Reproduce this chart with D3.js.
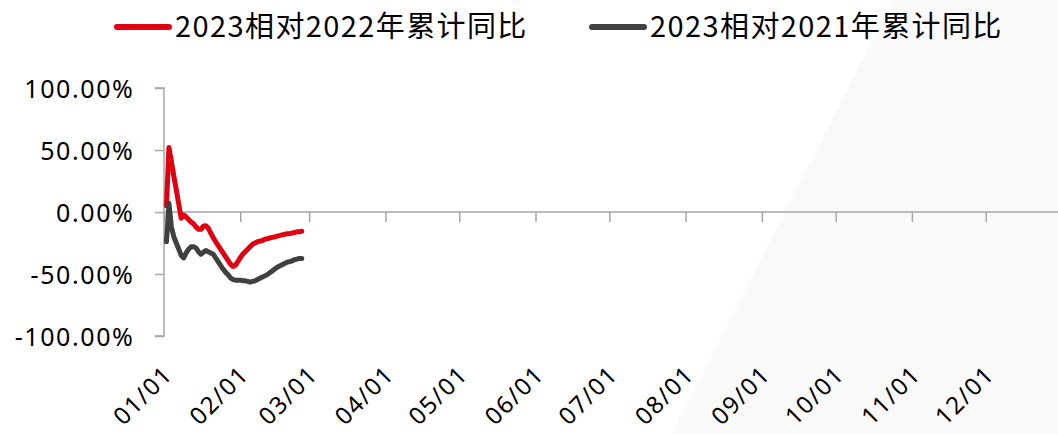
<!DOCTYPE html>
<html><head><meta charset="utf-8">
<script src="https://cdn.jsdelivr.net/npm/d3@7"></script>
<style>
html,body{margin:0;padding:0;background:#fff;}
svg{display:block;font-family:"Noto Sans CJK SC","Noto Sans",sans-serif;}
</style></head>
<body><svg id="c" width="1058" height="434"></svg>
<script>
const year = 2023;
const dates = ["01/02","01/03","01/04","01/05","01/06","01/07","01/08","01/09","01/10","01/11","01/12","01/13","01/14","01/15","01/16","01/17","01/18","01/19","01/20","01/21","01/22","01/23","01/24","01/25","01/26","01/27","01/28","01/29","01/30","01/31",
"02/01","02/02","02/03","02/04","02/05","02/06","02/07","02/08","02/09","02/10","02/11","02/12","02/13","02/14","02/15","02/16","02/17","02/18","02/19","02/20","02/21","02/22","02/23","02/24","02/25","02/26"];
const vs2022 = [5,52,40.6,29,17.8,6.4,-5,-2.5,-4,-6,-8,-9.5,-12,-14,-14,-11.5,-11,-13,-17,-20.5,-24,-27,-30,-33,-36,-39,-42,-44,-43,-40,-37,-34,-32,-30,-28,-26,-25,-24,-23.5,-23,-22,-21.5,-21,-20.5,-20,-19.5,-19,-18.5,-18,-17.5,-17.5,-17,-16.5,-16,-16,-15.5];
const vs2021 = [-24,7,-12,-20,-25,-30,-35,-37,-33,-30,-28,-28,-29,-32,-34,-32.5,-31,-32,-33,-34,-37,-40,-43,-46,-48.5,-50.5,-53,-54.5,-55,-55,-55,-55.5,-55.5,-56,-56.5,-56,-55.5,-54.5,-53.5,-52.5,-51.5,-50.5,-49,-47.5,-46,-44.5,-43.5,-42.5,-41.5,-40.5,-40,-39.5,-38.5,-38,-37.5,-37.5];
const seriesNames = ["2023相对2022年累计同比","2023相对2021年累计同比"];
const seriesColors = ["#e0000f","#404040"];
const yTicks = [1,0.5,0,-0.5,-1];
const yTickLabels = ["100.00%","50.00%","0.00%","-50.00%","-100.00%"];
const monthTicks = ["01/01","02/01","03/01","04/01","05/01","06/01","07/01","08/01","09/01","10/01","11/01","12/01"];

const parse = d3.timeParse("%Y/%m/%d");
const svg = d3.select("#c");

// faint background shape
svg.append("polygon").attr("points","893,0 1058,0 1058,434 672,434").attr("fill","#f9f9f9");

const x = d3.scaleTime().domain([parse(year+"/01/01"), parse((year+1)+"/01/01")]).range([164, 1062]);
const y = d3.scaleLinear().domain([-1,1]).range([336, 88]);
const axisColor = "#a6a6a6";
const tickFont = "'Noto Sans','Open Sans',sans-serif";

// y axis
const yAxis = svg.append("g").attr("transform","translate(164,0)")
  .call(d3.axisLeft(y).tickValues(yTicks).tickSize(9).tickFormat((d,i)=>yTickLabels[i]));
yAxis.select(".domain").attr("stroke",axisColor).attr("stroke-width",1.5).attr("d","M-9,"+y(1)+"H0V"+y(-1)+"H-9");
yAxis.selectAll(".tick line").attr("stroke",axisColor).attr("stroke-width",1.5);
yAxis.selectAll(".tick text").attr("font-size",25).attr("fill","#000").attr("x",-29.5).attr("dy","0.36em")
  .style("letter-spacing","1.6px").style("font-family",tickFont);

// x axis (at zero)
const xAxis = svg.append("g").attr("transform","translate(0,"+y(0)+")")
  .call(d3.axisBottom(x).tickValues(monthTicks.map(m=>parse(year+"/"+m))).tickSize(10).tickFormat(""));
xAxis.select(".domain").attr("stroke",axisColor).attr("stroke-width",1.5).attr("d","M164,0H1058");
xAxis.selectAll(".tick line").attr("stroke",axisColor).attr("stroke-width",1.5);

// x labels at bottom, rotated
svg.append("g").selectAll("text").data(monthTicks).join("text")
  .attr("transform",d=>"translate("+(x(parse(year+"/"+d))+10)+",376) rotate(-45)")
  .attr("text-anchor","end").attr("font-size",24).attr("fill","#000")
  .style("letter-spacing","1.5px").style("font-family",tickFont)
  .text(d=>d);

// lines
const line = d3.line().x((d,i)=>x(parse(year+"/"+dates[i]))).y(d=>y(d/100));
[vs2022, vs2021].forEach((s,k)=>{
  svg.append("path").datum(s).attr("d",line).attr("fill","none")
    .attr("stroke",seriesColors[k]).attr("stroke-width",5)
    .attr("stroke-linejoin","round").attr("stroke-linecap","round");
});

// legend
const legX = [115, 590];
seriesNames.forEach((n,k)=>{
  const g = svg.append("g").attr("transform","translate("+legX[k]+",0)");
  g.append("line").attr("x1",2).attr("x2",54).attr("y1",27).attr("y2",27)
    .attr("stroke",seriesColors[k]).attr("stroke-width",6).attr("stroke-linecap","round");
  g.append("text").attr("x",60).attr("y",37).attr("font-size",29).attr("fill","#000")
    .style("letter-spacing","1.4px").text(n);
});
</script></body></html>
